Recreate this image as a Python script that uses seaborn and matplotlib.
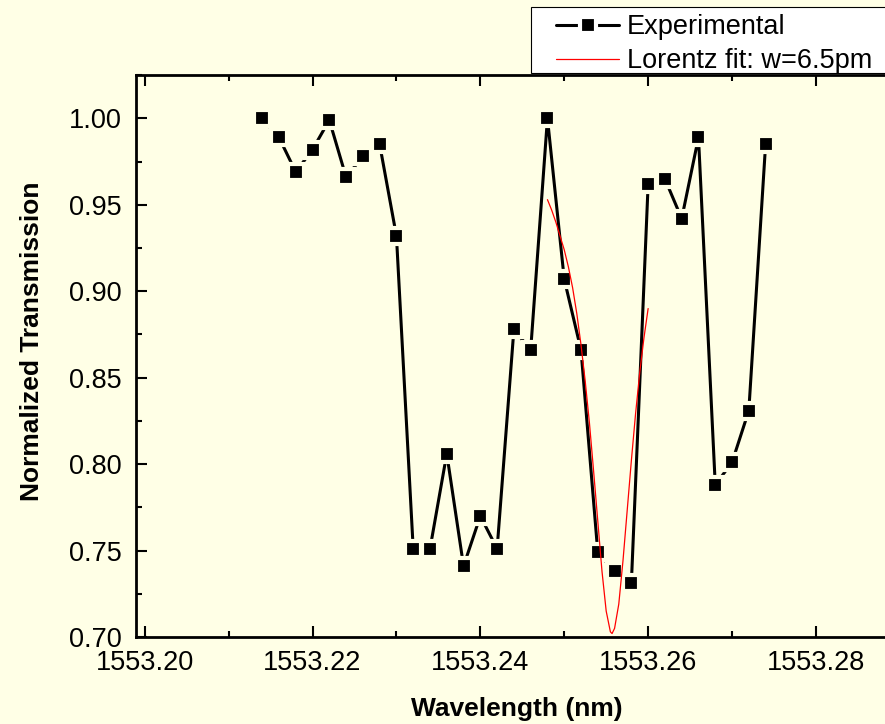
import matplotlib
matplotlib.use("Agg")
import matplotlib.pyplot as plt
import seaborn as sns
from matplotlib.lines import Line2D
from matplotlib.patches import Rectangle
from matplotlib.ticker import MultipleLocator, FormatStrFormatter

# ---------------- data ----------------
wavelength = [1553.214, 1553.216, 1553.218, 1553.220, 1553.222, 1553.224,
              1553.226, 1553.228, 1553.230, 1553.232, 1553.234, 1553.236,
              1553.238, 1553.240, 1553.242, 1553.244, 1553.246, 1553.248,
              1553.250, 1553.252, 1553.254, 1553.256, 1553.258, 1553.260,
              1553.262, 1553.264, 1553.266, 1553.268, 1553.270, 1553.272,
              1553.274]
transmission = [1.000, 0.989, 0.969, 0.982, 0.999, 0.966,
                0.978, 0.985, 0.932, 0.751, 0.751, 0.806,
                0.741, 0.770, 0.751, 0.878, 0.866, 1.000,
                0.907, 0.866, 0.749, 0.738, 0.731, 0.962,
                0.965, 0.942, 0.989, 0.788, 0.801, 0.831,
                0.985]

fit_wavelength = [1553.2480, 1553.2485, 1553.2490, 1553.2495, 1553.2500,
                  1553.2505, 1553.2510, 1553.2515, 1553.2520, 1553.2525,
                  1553.2530, 1553.2535, 1553.2540, 1553.2545, 1553.2550,
                  1553.2555, 1553.2557, 1553.2560, 1553.2565, 1553.2570,
                  1553.2575, 1553.2580, 1553.2585, 1553.2590, 1553.2595,
                  1553.2600]
fit_transmission = [0.953, 0.947, 0.940, 0.932, 0.924,
                    0.914, 0.902, 0.887, 0.869, 0.848,
                    0.824, 0.796, 0.767, 0.738, 0.715,
                    0.703, 0.702, 0.705, 0.719, 0.744,
                    0.773, 0.802, 0.829, 0.853, 0.873,
                    0.890]

series_labels = ["Experimental", "Lorentz fit: w=6.5pm"]
x_label = "Wavelength (nm)"
y_label = "Normalized Transmission"

# ---------------- style ----------------
BG = "#FFFFE6"
sns.set_theme(style="ticks", rc={"axes.facecolor": BG, "figure.facecolor": BG})
plt.rcParams["font.family"] = ["Liberation Sans", "DejaVu Sans"]

fig = plt.figure(figsize=(8.85, 7.24), dpi=100, facecolor=BG)
ax = fig.add_axes([135.5 / 885, (724 - 637) / 724,
                   (899 - 135.5) / 885, (637 - 75) / 724])
ax.set_facecolor(BG)

MS, MEW, LW = 11.8, 3.0, 2.2
sns.lineplot(x=wavelength, y=transmission, ax=ax, color="black", lw=LW,
             marker="s", ms=MS, mfc="black", mec=BG, mew=MEW,
             estimator=None, sort=False, legend=False, zorder=2)
sns.lineplot(x=fit_wavelength, y=fit_transmission, ax=ax, color="red",
             lw=0.9, estimator=None, sort=False, legend=False, zorder=3)

ax.set_xlim(1553.1989, 1553.2899)
ax.set_ylim(0.70, 1.0251)
ax.xaxis.set_major_locator(MultipleLocator(0.02))
ax.xaxis.set_minor_locator(MultipleLocator(0.01))
ax.xaxis.set_major_formatter(FormatStrFormatter("%.2f"))
ax.yaxis.set_major_locator(MultipleLocator(0.05))
ax.yaxis.set_minor_locator(MultipleLocator(0.025))
ax.yaxis.set_major_formatter(FormatStrFormatter("%.2f"))

ax.tick_params(which="both", direction="in", top=True, right=True,
               labeltop=False, labelright=False, colors="black", width=1.5)
ax.tick_params(which="major", length=8, labelsize=19.5)
ax.tick_params(which="minor", length=4.5)
ax.tick_params(axis="x", which="major", pad=9.5)
ax.tick_params(axis="y", which="major", pad=10)
for s in ax.spines.values():
    s.set_linewidth(2)
    s.set_color("black")

ax.set_xlabel(x_label, fontsize=19, fontweight="bold", color="black")
ax.xaxis.set_label_coords(0.5, -0.128)
ax.xaxis.label.set_va("center")
ax.set_ylabel(y_label, fontsize=19, fontweight="bold", color="black")
ax.yaxis.set_label_coords(-0.136, 0.527)
ax.yaxis.label.set_va("center")

# legend box (white, extends past right edge like the reference)
fig.add_artist(Rectangle((531 / 885, 1 - 73 / 724), (915 - 531) / 885, 66 / 724,
                         transform=fig.transFigure, facecolor="white",
                         edgecolor="black", lw=0.8, zorder=4))
handles = [Line2D([], [], color="black", lw=LW, marker="s", ms=MS,
                  mfc="black", mec="white", mew=MEW),
           Line2D([], [], color="red", lw=0.9)]
leg = fig.legend(handles, series_labels, loc="upper left",
                 bbox_to_anchor=(556 / 885, 1 - 14 / 724),
                 bbox_transform=fig.transFigure, frameon=False,
                 fontsize=19.5, borderpad=0, borderaxespad=0,
                 handlelength=2.33, handletextpad=0.3, labelspacing=0.31)
leg.set_zorder(5)
for t in leg.get_texts():
    t.set_color("black")

fig.savefig("out.png", dpi=100, facecolor=BG)
